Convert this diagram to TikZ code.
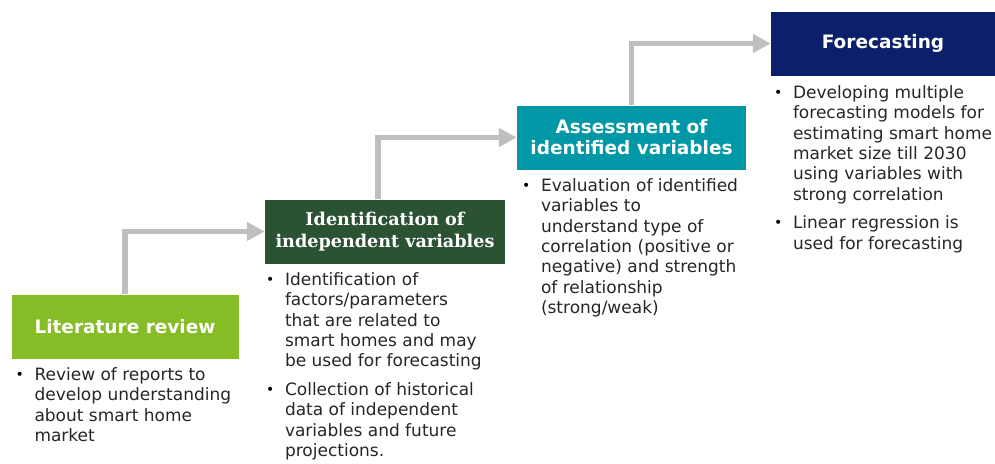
\documentclass[tikz,border=0pt]{standalone}
\usepackage{fontspec}
\setmainfont{DejaVu Sans}
\newfontfamily\titleserif{DejaVu Serif}
\usetikzlibrary{arrows.meta,positioning}

\definecolor{litgreen}{HTML}{86BC25}
\definecolor{idgreen}{HTML}{2C5234}
\definecolor{assteal}{HTML}{0097A7}
\definecolor{fcnavy}{HTML}{0C1F6B}
\definecolor{flowgray}{HTML}{BFBFBF}
\definecolor{desctext}{HTML}{262626}

\newcommand{\bul}{\llap{\makebox[19pt][l]{\fontsize{14pt}{14pt}\selectfont\raisebox{1pt}{\color{black}•}}}}

\tikzset{
  stage/.style={minimum height=64pt, inner sep=0pt, text=white, align=center,
    font=\fontsize{18.5pt}{21pt}\selectfont\bfseries},
  desc/.style={inner sep=0pt, align=left, text=desctext,
    font=\fontsize{17pt}{20.4pt}\selectfont},
  flow/.style={draw=flowgray, line width=5.5pt, -{Triangle[length=18pt,width=18pt]}}
}

\begin{document}
\begin{tikzpicture}[x=1pt,y=1pt]
        \useasboundingbox (0,0) rectangle (995,-463);

        % Stage boxes
        \node [stage, fill=litgreen, minimum width=227pt] (lit) at (125,-326.5) {Literature review};%
        \node [stage, fill=idgreen, minimum width=240pt, font=\fontsize{17.6pt}{21.5pt}\selectfont\titleserif\bfseries] (ident) at (385,-231.5) {Identification of\\independent variables};%
        \node [stage, fill=assteal, minimum width=229pt] (assess) at (631.5,-137.5) {Assessment of\\identified variables};%
        \node [stage, fill=fcnavy, minimum width=224pt] (fcast) at (883,-43.5) {Forecasting};%

        % Connectors between the stages
        \draw [flow] (lit.north) |- (ident.west);%
        \draw [flow] ([xshift=-7pt]ident.north) |- (assess.west);%
        \draw [flow] (assess.north) |- (fcast.west);%

        % Bullet texts below the boxes
        \node [desc, below right=8.5pt and 23pt of lit.south west] (litdesc) {%
          \bul Review of reports to\\ develop understanding\\ about smart home\\ market};%
        \node [desc, below right=8.5pt and 20pt of ident.south west] (identdesc) {%
          \bul Identification of\\ factors/parameters\\ that are related to\\ smart homes and may\\ be used for forecasting\\[8pt]
          \bul Collection of historical\\ data of independent\\ variables and future\\ projections.};%
        \node [desc, below right=8.5pt and 24pt of assess.south west] (assessdesc) {%
          \bul Evaluation of identified\\ variables to\\ understand type of\\ correlation (positive or\\ negative) and strength\\ of relationship\\ (strong/weak)};%
        \node [desc, below right=9.5pt and 22pt of fcast.south west] (fcastdesc) {%
          \bul Developing multiple\\ forecasting models for\\ estimating smart home\\ market size till 2030\\ using variables with\\ strong correlation\\[8pt]
          \bul Linear regression is\\ used for forecasting};%
\end{tikzpicture}
\end{document}
